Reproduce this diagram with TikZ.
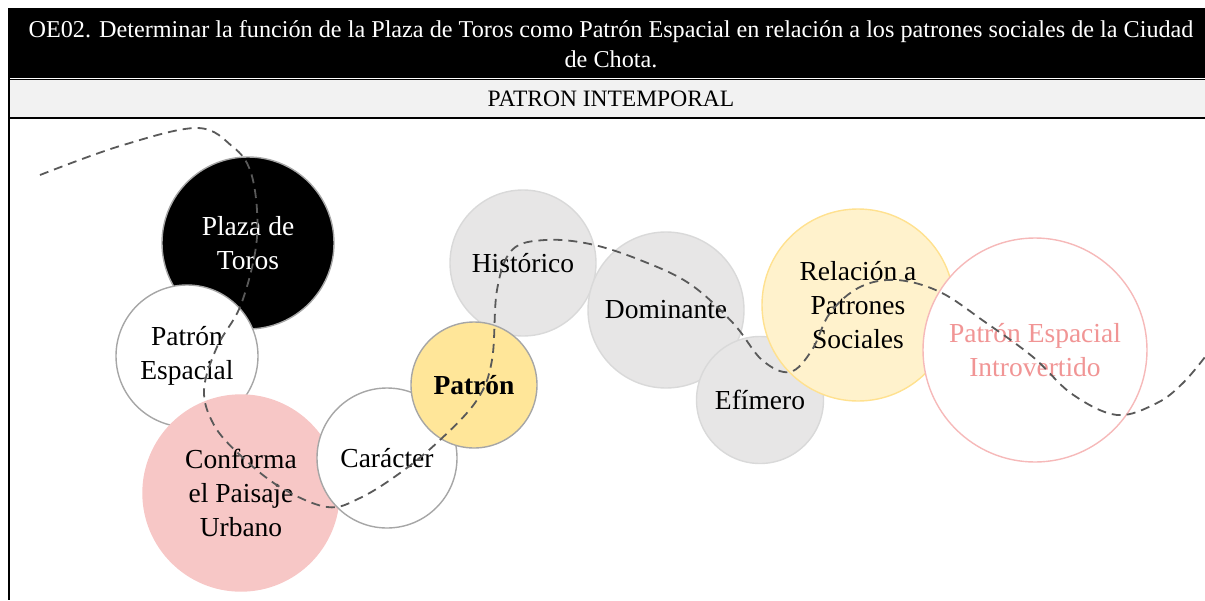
\documentclass[tikz,border=0pt]{standalone}
\usepackage{fontspec}
\setmainfont{Liberation Serif}
\usepackage{tikz}

\definecolor{rimgray}{HTML}{A6A6A6}
\definecolor{softgray}{HTML}{E7E6E6}
\definecolor{softrim}{HTML}{D9D9D9}
\definecolor{rosefill}{HTML}{F7C7C6}
\definecolor{rosetext}{HTML}{F19595}
\definecolor{roserim}{HTML}{F6B9B9}
\definecolor{goldfill}{HTML}{FFE699}
\definecolor{creamfill}{HTML}{FFF2CC}
\definecolor{creamrim}{HTML}{FFE18F}
\definecolor{bandgray}{HTML}{F2F2F2}
\definecolor{pathgray}{HTML}{595959}

\begin{document}
\begin{tikzpicture}[x=1pt,y=-1pt,
	bubble/.style={shape=circle,inner sep=0pt,align=center,line width=1.4pt,
		font=\fontsize{27.5}{34}\selectfont},
	rule/.style={line width=1.6pt,draw=black}]
	
	\useasboundingbox (0,0) rectangle (1205,600);
	
	% header
	\fill[black] (8,8) rectangle (1205,78);
	\fill[bandgray] (8,80) rectangle (1205,117);
	\draw[rule] (9,8) -- (9,600);
	\draw[black,line width=0.6pt] (8,79) -- (1205,79);
	\draw[rule,line width=2.2pt] (8,118) -- (1205,118);
	\node[text=white,align=center,font=\fontsize{24.2}{30}\selectfont] (titulo) at (611,44)
		{OE02. Determinar la función de la Plaza de Toros como Patrón Espacial en relación a los patrones sociales de la Ciudad\\de Chota.};
	\node[font=\fontsize{23.5}{26}\selectfont] (subtitulo) at (611,99) {PATRON INTEMPORAL};
	
	% circles
	\node[bubble,fill=black,draw=rimgray,minimum size=172pt,text=white] (plaza) at (248,243) {Plaza de\\Toros};
	\node[bubble,fill=white,draw=rimgray,minimum size=142pt] (espacial) at (187,356) {Patrón\\Espacial};
	\node[bubble,fill=rosefill,draw=rosefill,minimum size=196pt] (conforma) at (241,493) {Conforma\\el Paisaje\\Urbano};
	\node[bubble,fill=softgray,draw=softrim,minimum size=146pt] (historico) at (523,263) {Histórico};
	\node[bubble,fill=softgray,draw=softrim,minimum size=156pt] (dominante) at (666,310) {Dominante};
	\node[bubble,fill=softgray,draw=softrim,minimum size=127pt] (efimero) at (760,400) {Efímero};
	\node[bubble,fill=creamfill,draw=creamrim,minimum size=192pt] (relacion) at (858,305) {Relación a\\Patrones\\Sociales};
	\node[bubble,fill=white,draw=roserim,minimum size=224pt,text=rosetext] (introvertido) at (1035,350) {Patrón Espacial\\Introvertido};
	\node[bubble,fill=white,draw=rimgray,minimum size=140pt] (caracter) at (387,458) {Carácter};
	\node[bubble,fill=goldfill,draw=rimgray,minimum size=126pt,font=\fontsize{27.5}{34}\selectfont\bfseries] (patron) at (474,385) {Patrón};
	
	% dashed path
	\draw[pathgray,line width=1.8pt,dash pattern=on 9pt off 6pt] plot[smooth,tension=0.6] coordinates {
		(40,175) (120,146) (197,128) (233,147) (250,170) (257,210) (255,253) (240,307)
		(217,347) (204,390) (214,425) (240,455) (280,487) (327,507) (360,498) (400,473)
		(440,440) (477,400) (492,360) (497,290) (512,250) (545,240) (590,244) (640,260)
		(690,284) (733,323) (762,360) (790,372) (812,350) (830,313) (860,287) (897,280)
		(940,292) (985,322) (1033,357) (1072,394) (1117,415) (1157,403) (1183,383) (1205,357)};
	
\end{tikzpicture}
\end{document}
